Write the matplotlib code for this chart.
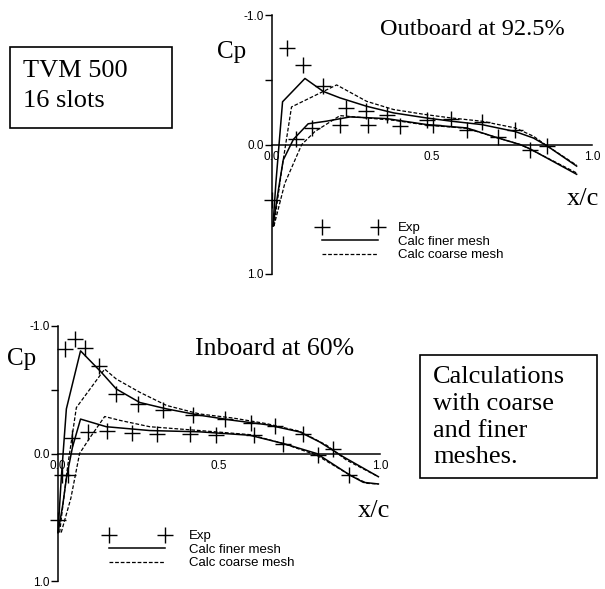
import matplotlib
matplotlib.use("Agg")
import matplotlib.pyplot as plt
from matplotlib.patches import Rectangle
from matplotlib.lines import Line2D

W, H = 605, 589  # 图的像素大小

# ---- outboard at 92.5% ----
out_exp_up_x = [0.048, 0.098, 0.158, 0.231, 0.294, 0.358, 0.483, 0.56, 0.655, 0.76, 0.858]
out_exp_up_cp = [-0.745, -0.615, -0.45, -0.28, -0.256, -0.23, -0.19, -0.2, -0.17, -0.115, 0.008]
out_exp_lo_x = [0.0, 0.075, 0.124, 0.2125, 0.30, 0.40, 0.504, 0.608, 0.707, 0.806]
out_exp_lo_cp = [0.43, -0.04, -0.128, -0.154, -0.154, -0.146, -0.154, -0.11, -0.06, 0.04]

out_fine_up_x = [0.003, 0.012, 0.033, 0.103, 0.16, 0.2125, 0.296, 0.38, 0.483, 0.56, 0.655, 0.76, 0.817, 0.858, 0.952]
out_fine_up_cp = [0.63, 0.30, -0.33, -0.51, -0.41, -0.36, -0.295, -0.244, -0.205, -0.18, -0.154, -0.10, -0.05, 0.008, 0.167]
out_fine_lo_x = [0.003, 0.02, 0.035, 0.067, 0.113, 0.17, 0.244, 0.358, 0.483, 0.608, 0.707, 0.775, 0.806, 0.952]
out_fine_lo_cp = [0.63, 0.35, 0.12, -0.04, -0.16, -0.18, -0.213, -0.2, -0.154, -0.128, -0.05, 0.0, 0.033, 0.23]

out_coarse_up_x = [0.006, 0.03, 0.061, 0.202, 0.296, 0.38, 0.483, 0.56, 0.655, 0.76, 0.817, 0.858, 0.952]
out_coarse_up_cp = [0.63, 0.2, -0.29, -0.46, -0.333, -0.27, -0.23, -0.205, -0.18, -0.128, -0.064, 0.008, 0.16]
out_coarse_lo_x = [0.006, 0.04, 0.077, 0.093, 0.134, 0.2125, 0.296, 0.38, 0.483, 0.608, 0.707, 0.775, 0.806, 0.952]
out_coarse_lo_cp = [0.63, 0.3, 0.09, 0.0, -0.10, -0.223, -0.205, -0.187, -0.15, -0.125, -0.05, 0.0, 0.035, 0.22]

# ---- inboard at 60% ----
in_exp_up_x = [0.021, 0.052, 0.083, 0.126, 0.179, 0.249, 0.326, 0.42, 0.518, 0.60, 0.674, 0.762, 0.855]
in_exp_up_cp = [-0.818, -0.896, -0.83, -0.683, -0.468, -0.39, -0.343, -0.30, -0.273, -0.24, -0.213, -0.156, -0.034]
in_exp_lo_x = [0.0, 0.012, 0.03, 0.045, 0.093, 0.152, 0.23, 0.306, 0.41, 0.49, 0.608, 0.70, 0.808, 0.905]
in_exp_lo_cp = [0.52, 0.17, 0.17, -0.12, -0.17, -0.18, -0.164, -0.156, -0.156, -0.148, -0.148, -0.078, 0.013, 0.169]

in_fine_up_x = [0.0, 0.01, 0.026, 0.07, 0.135, 0.181, 0.254, 0.337, 0.44, 0.544, 0.648, 0.751, 0.813, 0.886, 0.995]
in_fine_up_cp = [0.62, 0.2, -0.35, -0.805, -0.636, -0.506, -0.40, -0.35, -0.30, -0.26, -0.226, -0.169, -0.09, 0.026, 0.182]
in_fine_lo_x = [0.0, 0.015, 0.026, 0.045, 0.07, 0.15, 0.285, 0.44, 0.596, 0.70, 0.803, 0.907, 0.948, 0.995]
in_fine_lo_cp = [0.62, 0.4, 0.195, -0.05, -0.27, -0.21, -0.18, -0.17, -0.143, -0.078, 0.0, 0.17, 0.226, 0.239]

in_coarse_up_x = [0.005, 0.03, 0.057, 0.145, 0.181, 0.254, 0.337, 0.44, 0.544, 0.648, 0.751, 0.834, 0.896, 0.995]
in_coarse_up_cp = [0.62, 0.1, -0.36, -0.662, -0.584, -0.48, -0.377, -0.31, -0.278, -0.234, -0.174, -0.065, 0.052, 0.182]
in_coarse_lo_x = [0.01, 0.04, 0.067, 0.098, 0.145, 0.192, 0.285, 0.44, 0.596, 0.70, 0.803, 0.907, 0.96, 0.995]
in_coarse_lo_cp = [0.62, 0.35, 0.0, -0.12, -0.29, -0.26, -0.21, -0.18, -0.148, -0.078, 0.013, 0.17, 0.234, 0.239]

legend_labels = ["Exp", "Calc finer mesh", "Calc coarse mesh"]
xtick_vals = [0.0, 0.5, 1.0]
xtick_labels = ["0.0", "0.5", "1.0"]
ytick_vals = [-1.0, -0.5, 0.0, 1.0]
ytick_labels = ["-1.0", "", "0.0", "1.0"]

SERIF = "Liberation Serif"
SANS = "Liberation Sans"


def fx(px):
    return px / W


def fy(py):
    return 1 - py / H


def make_axes(fig, left, top, right, bottom):
    ax = fig.add_axes([fx(left), fy(bottom), (right - left) / W, (bottom - top) / H])
    ax.set_xlim(0, 1)
    ax.set_ylim(1, -1)
    ax.patch.set_alpha(0)
    for s in ["top", "right"]:
        ax.spines[s].set_visible(False)
    ax.spines["bottom"].set_position(("data", 0))
    ax.spines["left"].set_linewidth(1.1)
    ax.spines["bottom"].set_linewidth(1.1)
    ax.set_xticks(xtick_vals)
    ax.set_xticklabels(xtick_labels, fontfamily=SANS, fontsize=8.5)
    ax.set_yticks(ytick_vals)
    ax.set_yticklabels(ytick_labels, fontfamily=SANS, fontsize=8.5)
    ax.tick_params(axis="x", length=0, pad=5)
    ax.tick_params(axis="y", direction="out", length=5, width=1, pad=1)
    return ax


def draw_panel(ax, exp_up, exp_lo, fine_up, fine_lo, coarse_up, coarse_lo):
    kw_exp = dict(ls="none", marker="+", ms=11, mew=1.0, color="black", clip_on=False)
    kw_fine = dict(ls="-", lw=1.1, color="black", clip_on=False)
    kw_coarse = dict(ls=(0, (3, 1.5)), lw=0.9, color="black", clip_on=False)
    ax.plot(*fine_up, **kw_fine)
    ax.plot(*fine_lo, **kw_fine)
    ax.plot(*coarse_up, **kw_coarse)
    ax.plot(*coarse_lo, **kw_coarse)
    ax.plot(*exp_up, **kw_exp)
    ax.plot(*exp_lo, **kw_exp)


def add_legend(fig, left, top, textpad):
    handles = [
        Line2D([], [], ls="none", marker="+", ms=11, mew=1.0, color="black"),
        Line2D([], [], ls="-", lw=1.1, color="black"),
        Line2D([], [], ls=(0, (3, 1.5)), lw=0.9, color="black"),
    ]
    fig.legend(handles, legend_labels, loc="upper left",
               bbox_to_anchor=(fx(left), fy(top)), bbox_transform=fig.transFigure,
               frameon=False, numpoints=2, handlelength=4.85, handletextpad=textpad,
               labelspacing=0.1, borderpad=0, borderaxespad=0,
               prop={"family": SANS, "size": 9.5})


fig = plt.figure(figsize=(W / 100, H / 100), dpi=100)

# 上图 outboard
ax1 = make_axes(fig, 272, 15, 592, 274)
draw_panel(ax1,
           (out_exp_up_x, out_exp_up_cp), (out_exp_lo_x, out_exp_lo_cp),
           (out_fine_up_x, out_fine_up_cp), (out_fine_lo_x, out_fine_lo_cp),
           (out_coarse_up_x, out_coarse_up_cp), (out_coarse_lo_x, out_coarse_lo_cp))
add_legend(fig, 318, 222, 1.2)

# 下图 inboard
ax2 = make_axes(fig, 58, 326, 380, 581)
draw_panel(ax2,
           (in_exp_up_x, in_exp_up_cp), (in_exp_lo_x, in_exp_lo_cp),
           (in_fine_up_x, in_fine_up_cp), (in_fine_lo_x, in_fine_lo_cp),
           (in_coarse_up_x, in_coarse_up_cp), (in_coarse_lo_x, in_coarse_lo_cp))
add_legend(fig, 105, 530, 1.5)

# 文字
fig.text(fx(380), fy(35), "Outboard at 92.5%", family=SERIF, fontsize=17.5, va="baseline")
fig.text(fx(195), fy(355), "Inboard at 60%", family=SERIF, fontsize=18.5, va="baseline")
fig.text(fx(217), fy(58), "Cp", family=SERIF, fontsize=18, va="baseline")
fig.text(fx(7), fy(365), "Cp", family=SERIF, fontsize=18, va="baseline")
fig.text(fx(567), fy(205), "x/c", family=SERIF, fontsize=19, va="baseline")
fig.text(fx(358), fy(517), "x/c", family=SERIF, fontsize=19, va="baseline")

# 左上框
fig.patches.append(Rectangle((fx(10), fy(128)), 162 / W, 81 / H, transform=fig.transFigure,
                             fill=False, lw=1.2, ec="black"))
fig.text(fx(23), fy(77), "TVM 500", family=SERIF, fontsize=19, va="baseline")
fig.text(fx(23), fy(107), "16 slots", family=SERIF, fontsize=19, va="baseline")

# 右下框
fig.patches.append(Rectangle((fx(420), fy(478)), 177 / W, 123 / H, transform=fig.transFigure,
                             fill=False, lw=1.2, ec="black"))
for line, base in zip(["Calculations", "with coarse", "and finer", "meshes."], [383, 410, 437, 463]):
    fig.text(fx(433), fy(base), line, family=SERIF, fontsize=19, va="baseline")

fig.savefig("out.png", dpi=100)
